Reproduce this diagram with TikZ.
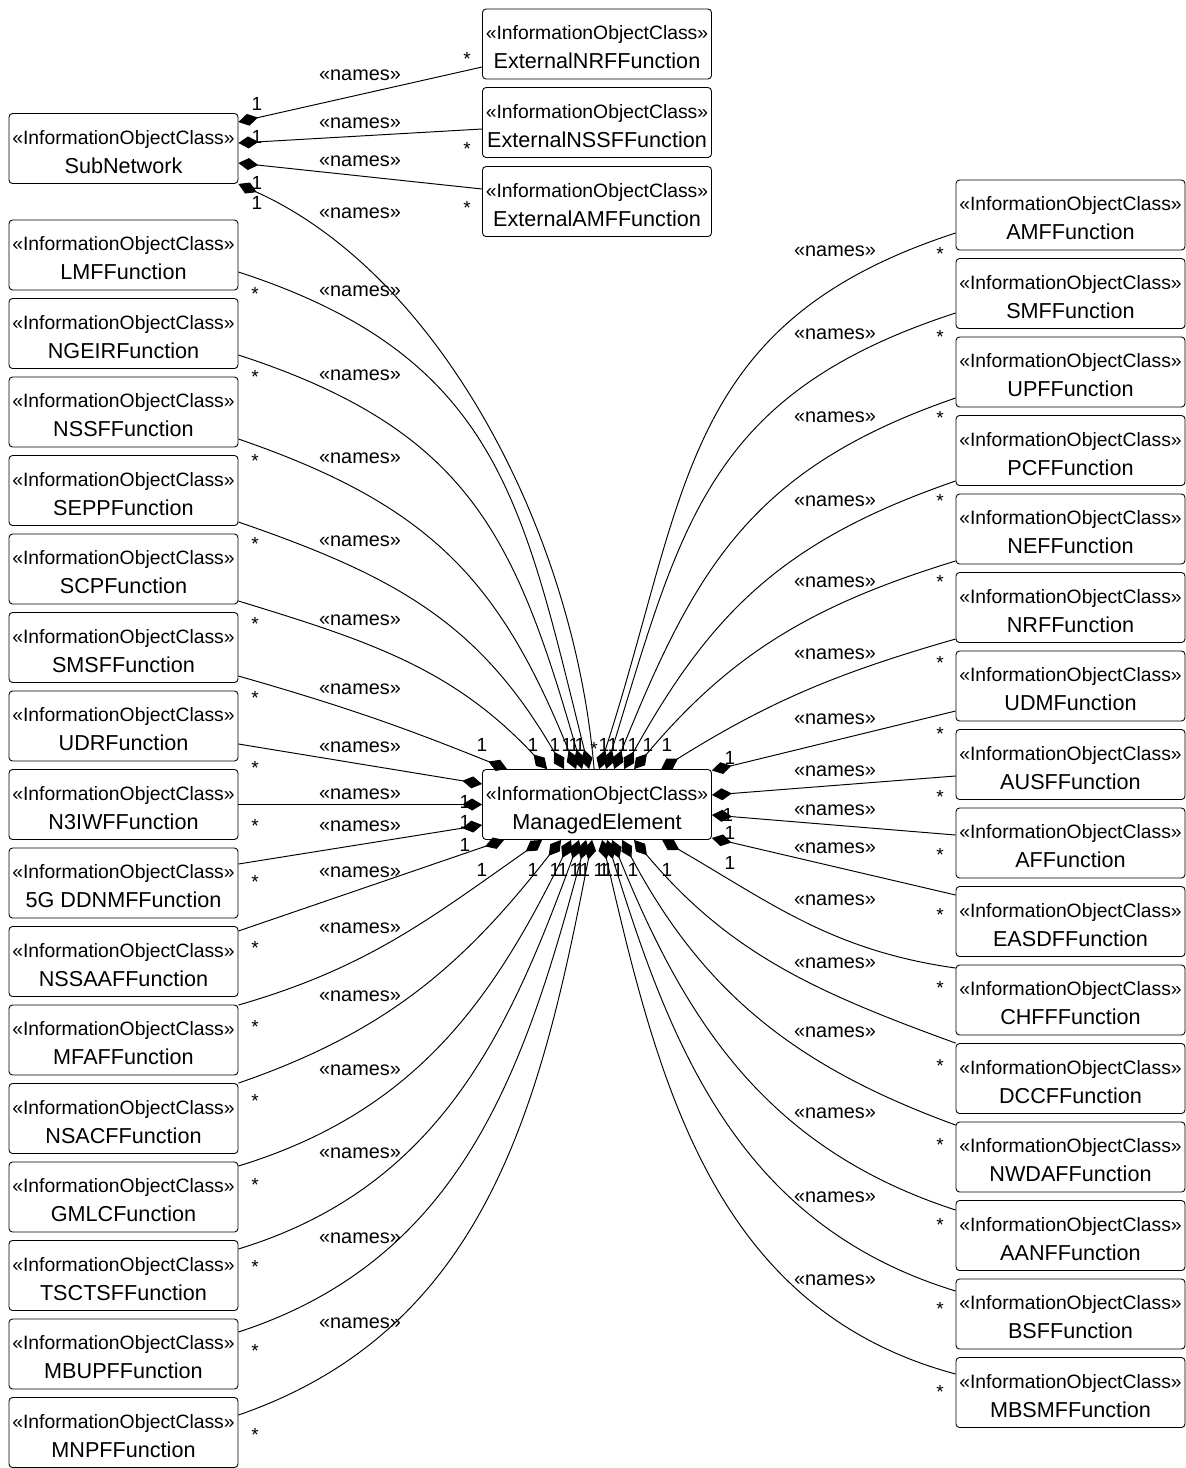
\documentclass[tikz,border=0pt]{standalone}
\usepackage{fontspec}
\setmainfont{Liberation Sans}
\usetikzlibrary{arrows.meta,calc}

\newcommand{\stereo}[1]{{\fontsize{11}{12}\selectfont\rule{0pt}{14.8pt}«InformationObjectClass»}\\#1\rule[-3pt]{0pt}{0pt}}

\begin{document}
\begin{tikzpicture}[x=0.02cm, y=-0.02cm,
  ioc/.style={draw, rounded corners=2pt, line width=0.5pt, minimum width=4.58cm, minimum height=1.4cm, inner sep=0.5pt, align=center, font=\fontsize{12.3}{16.5}\selectfont},
  assoc/.style={line width=0.55pt},
  comp/.style={{Diamond[length=0.4cm,width=0.24cm]}-},
  nameslbl/.style={font=\fontsize{11.3}{13}\selectfont, inner sep=0pt},
  mult/.style={font=\fontsize{10.8}{12}\selectfont, inner sep=0pt}]
\useasboundingbox (0,0) rectangle (1186,1468);

% classes
\node[ioc] (subnetwork) at (123.5,148.5) {\stereo{SubNetwork}};
\node[ioc] (extnrf) at (597,44) {\stereo{ExternalNRFFunction}};
\node[ioc] (extnssf) at (597,122.5) {\stereo{ExternalNSSFFunction}};
\node[ioc] (extamf) at (597,201.5) {\stereo{ExternalAMFFunction}};
\node[ioc] (me) at (597,804.5) {\stereo{ManagedElement}};

\node[ioc] (lmf) at (123.5,255) {\stereo{LMFFunction}};
\node[ioc] (ngeir) at (123.5,333.5) {\stereo{NGEIRFunction}};
\node[ioc] (nssf) at (123.5,412) {\stereo{NSSFFunction}};
\node[ioc] (sepp) at (123.5,490.5) {\stereo{SEPPFunction}};
\node[ioc] (scp) at (123.5,569) {\stereo{SCPFunction}};
\node[ioc] (smsf) at (123.5,647.5) {\stereo{SMSFFunction}};
\node[ioc] (udr) at (123.5,726) {\stereo{UDRFunction}};
\node[ioc] (n3iwf) at (123.5,804.5) {\stereo{N3IWFFunction}};
\node[ioc] (ddnmf) at (123.5,883) {\stereo{5G DDNMFFunction}};
\node[ioc] (nssaaf) at (123.5,961.5) {\stereo{NSSAAFFunction}};
\node[ioc] (mfaf) at (123.5,1040) {\stereo{MFAFFunction}};
\node[ioc] (nsacf) at (123.5,1118.5) {\stereo{NSACFFunction}};
\node[ioc] (gmlc) at (123.5,1197) {\stereo{GMLCFunction}};
\node[ioc] (tscts) at (123.5,1275.5) {\stereo{TSCTSFFunction}};
\node[ioc] (mbupf) at (123.5,1354) {\stereo{MBUPFFunction}};
\node[ioc] (mnpf) at (123.5,1432.5) {\stereo{MNPFFunction}};

\node[ioc] (amf) at (1070.5,215) {\stereo{AMFFunction}};
\node[ioc] (smf) at (1070.5,293.5) {\stereo{SMFFunction}};
\node[ioc] (upf) at (1070.5,372) {\stereo{UPFFunction}};
\node[ioc] (pcf) at (1070.5,450.5) {\stereo{PCFFunction}};
\node[ioc] (nef) at (1070.5,529) {\stereo{NEFFunction}};
\node[ioc] (nrf) at (1070.5,607.5) {\stereo{NRFFunction}};
\node[ioc] (udm) at (1070.5,686) {\stereo{UDMFunction}};
\node[ioc] (ausf) at (1070.5,764.5) {\stereo{AUSFFunction}};
\node[ioc] (af) at (1070.5,843) {\stereo{AFFunction}};
\node[ioc] (easdf) at (1070.5,921.5) {\stereo{EASDFFunction}};
\node[ioc] (chf) at (1070.5,1000) {\stereo{CHFFFunction}};
\node[ioc] (dccf) at (1070.5,1078.5) {\stereo{DCCFFunction}};
\node[ioc] (nwdaf) at (1070.5,1157) {\stereo{NWDAFFunction}};
\node[ioc] (aanf) at (1070.5,1235.5) {\stereo{AANFFunction}};
\node[ioc] (bsf) at (1070.5,1314) {\stereo{BSFFunction}};
\node[ioc] (mbsmf) at (1070.5,1392.5) {\stereo{MBSMFFunction}};

% SubNetwork links
\draw[assoc,comp] ($(subnetwork.east)+(0,-26.5)$) -- ($(extnrf.west)+(0,23)$);
\draw[assoc,comp] ($(subnetwork.east)+(0,-5.5)$) -- ($(extnssf.west)+(0,6.5)$);
\draw[assoc,comp] ($(subnetwork.east)+(0,14.5)$) -- ($(extamf.west)+(0,-12.5)$);
\draw[assoc,comp] (subnetwork.south east) .. controls +(200,90) and +(-20,-239) .. ($(me.north west)+(112,0)$);

% ManagedElement links, left
\draw[assoc,comp] ($(me.north west)+(107,0)$) to[out=104,in=-18,looseness=1.15] ($(lmf.east)+(0,17)$);
\draw[assoc,comp] ($(me.north west)+(100,0)$) to[out=106,in=-18,looseness=1.15] ($(ngeir.east)+(0,21.5)$);
\draw[assoc,comp] ($(me.north west)+(94,0)$) to[out=112,in=-19,looseness=1.1] ($(nssf.east)+(0,27)$);
\draw[assoc,comp] ($(me.north west)+(82,0)$) to[out=120,in=-19,looseness=1.05] ($(sepp.east)+(0,31.5)$);
\draw[assoc,comp] ($(me.north west)+(65,0)$) to[out=133,in=-17] ($(scp.east)+(0,32)$);
\draw[assoc,comp] ($(me.north west)+(25,0)$) to[out=158,in=-16] ($(smsf.east)+(0,28.5)$);
\draw[assoc,comp] ($(me.west)+(0,-20.5)$) -- ($(udr.east)+(0,18)$);
\draw[assoc,comp] (me.west) -- (n3iwf.east);
\draw[assoc,comp] ($(me.west)+(0,20.5)$) -- ($(ddnmf.east)+(0,-19)$);
\draw[assoc,comp] ($(me.south west)+(22,0)$) -- ($(nssaaf.east)+(0,-30.5)$);
\draw[assoc,comp] ($(me.south west)+(60,0)$) to[out=-145,in=16] ($(mfaf.east)+(0,-35)$);
\draw[assoc,comp] ($(me.south west)+(79,0)$) to[out=-128,in=19] (nsacf.north east);
\draw[assoc,comp] ($(me.south west)+(89,0)$) to[out=-116,in=17] ($(gmlc.east)+(0,-31)$);
\draw[assoc,comp] ($(me.south west)+(97,0)$) to[out=-110,in=17] ($(tscts.east)+(0,-26.5)$);
\draw[assoc,comp] ($(me.south west)+(104,0)$) to[out=-105,in=18] ($(mbupf.east)+(0,-22)$);
\draw[assoc,comp] ($(me.south west)+(110,0)$) to[out=-101,in=19] ($(mnpf.east)+(0,-17.5)$);

% ManagedElement links, right
\draw[assoc,comp] ($(me.north west)+(117,0)$) to[out=72,in=198,looseness=1.15] ($(amf.west)+(0,18)$);
\draw[assoc,comp] ($(me.north west)+(124,0)$) to[out=73,in=198,looseness=1.15] ($(smf.west)+(0,19.5)$);
\draw[assoc,comp] ($(me.north west)+(132,0)$) to[out=68,in=199,looseness=1.1] ($(upf.west)+(0,26)$);
\draw[assoc,comp] ($(me.north west)+(142,0)$) to[out=61,in=199,looseness=1.05] ($(pcf.west)+(0,30.5)$);
\draw[assoc,comp] ($(me.north west)+(152,0)$) to[out=50,in=197] ($(nef.west)+(0,32)$);
\draw[assoc,comp] ($(me.north west)+(179,0)$) to[out=32,in=196] ($(nrf.west)+(0,31.5)$);
\draw[assoc,comp] ($(me.east)+(0,-34)$) -- ($(udm.west)+(0,25)$);
\draw[assoc,comp] ($(me.east)+(0,-9.5)$) -- ($(ausf.west)+(0,11.5)$);
\draw[assoc,comp] ($(me.east)+(0,10.5)$) -- ($(af.west)+(0,-8)$);
\draw[assoc,comp] ($(me.east)+(0,33.5)$) -- ($(easdf.west)+(0,-26.5)$);
\draw[assoc,comp] ($(me.south west)+(180,0)$) to[out=-30,in=172] ($(chf.west)+(0,-32)$);
\draw[assoc,comp] ($(me.south west)+(152,0)$) to[out=-50,in=160] (dccf.north west);
\draw[assoc,comp] ($(me.south west)+(140,0)$) to[out=-62,in=160] ($(nwdaf.west)+(0,-32)$);
\draw[assoc,comp] ($(me.south west)+(130,0)$) to[out=-68,in=162] ($(aanf.west)+(0,-25.5)$);
\draw[assoc,comp] ($(me.south west)+(125,0)$) to[out=-73,in=163] ($(bsf.west)+(0,-23)$);
\draw[assoc,comp] ($(me.south west)+(120,0)$) to[out=-77,in=165] ($(mbsmf.west)+(0,-18.5)$);

% stereotype labels
\node[nameslbl] (nm-extnrf) at (360,75) {«names»};
\node[nameslbl] (nm-extnssf) at (360,123) {«names»};
\node[nameslbl] (nm-extamf) at (360,161) {«names»};
\node[nameslbl] (nm-me) at (360,213) {«names»};
\node[nameslbl] (nm-lmf) at (360,291) {«names»};
\node[nameslbl] (nm-ngeir) at (360,375) {«names»};
\node[nameslbl] (nm-nssf) at (360,458) {«names»};
\node[nameslbl] (nm-sepp) at (360,541) {«names»};
\node[nameslbl] (nm-scp) at (360,620) {«names»};
\node[nameslbl] (nm-smsf) at (360,689) {«names»};
\node[nameslbl] (nm-udr) at (360,747) {«names»};
\node[nameslbl] (nm-n3iwf) at (360,794) {«names»};
\node[nameslbl] (nm-ddnmf) at (360,826) {«names»};
\node[nameslbl] (nm-nssaaf) at (360,872) {«names»};
\node[nameslbl] (nm-mfaf) at (360,928) {«names»};
\node[nameslbl] (nm-nsacf) at (360,996) {«names»};
\node[nameslbl] (nm-gmlc) at (360,1070) {«names»};
\node[nameslbl] (nm-tscts) at (360,1153) {«names»};
\node[nameslbl] (nm-mbupf) at (360,1238) {«names»};
\node[nameslbl] (nm-mnpf) at (360,1323) {«names»};
\node[nameslbl] (nm-amf) at (835,251) {«names»};
\node[nameslbl] (nm-smf) at (835,334) {«names»};
\node[nameslbl] (nm-upf) at (835,417) {«names»};
\node[nameslbl] (nm-pcf) at (835,501) {«names»};
\node[nameslbl] (nm-nef) at (835,582) {«names»};
\node[nameslbl] (nm-nrf) at (835,654) {«names»};
\node[nameslbl] (nm-udm) at (835,719) {«names»};
\node[nameslbl] (nm-ausf) at (835,771) {«names»};
\node[nameslbl] (nm-af) at (835,810) {«names»};
\node[nameslbl] (nm-easdf) at (835,848) {«names»};
\node[nameslbl] (nm-chf) at (835,900) {«names»};
\node[nameslbl] (nm-dccf) at (835,963) {«names»};
\node[nameslbl] (nm-nwdaf) at (835,1032) {«names»};
\node[nameslbl] (nm-aanf) at (835,1113) {«names»};
\node[nameslbl] (nm-bsf) at (835,1197) {«names»};
\node[nameslbl] (nm-mbsmf) at (835,1280) {«names»};

% multiplicities, owner end
\node[mult] (o-extnrf) at (257,104) {1};
\node[mult] (o-extnssf) at (257,137) {1};
\node[mult] (o-extamf) at (257,183) {1};
\node[mult] (o-me) at (257,203) {1};
\node[mult] (o-smsf) at (482,745) {1};
\node[mult] (o-scp) at (533,745) {1};
\node[mult] (o-sepp) at (555,745) {1};
\node[mult] (o-nssf) at (567,745) {1};
\node[mult] (o-ngeir) at (574,745) {1};
\node[mult] (o-lmf) at (580,745) {1};
\node[mult] (o-amf) at (604,745) {1};
\node[mult] (o-smf) at (613,745) {1};
\node[mult] (o-upf) at (623,745) {1};
\node[mult] (o-pcf) at (633,745) {1};
\node[mult] (o-nef) at (648,745) {1};
\node[mult] (o-nrf) at (667,745) {1};
\node[mult] (o-udr) at (465,802) {1};
\node[mult] (o-n3iwf) at (465,822) {1};
\node[mult] (o-ddnmf) at (465,845) {1};
\node[mult] (o-udm) at (730,758) {1};
\node[mult] (o-ausf) at (728,815) {1};
\node[mult] (o-af) at (730,833) {1};
\node[mult] (o-easdf) at (730,863) {1};
\node[mult] (o-nssaaf) at (482,870) {1};
\node[mult] (o-mfaf) at (533,870) {1};
\node[mult] (o-nsacf) at (555,870) {1};
\node[mult] (o-gmlc) at (563,870) {1};
\node[mult] (o-tscts) at (575,870) {1};
\node[mult] (o-mbupf) at (580,870) {1};
\node[mult] (o-mnpf) at (585,870) {1};
\node[mult] (o-mbsmf) at (599,870) {1};
\node[mult] (o-bsf) at (604,870) {1};
\node[mult] (o-aanf) at (608,870) {1};
\node[mult] (o-nwdaf) at (618,870) {1};
\node[mult] (o-dccf) at (633,870) {1};
\node[mult] (o-chf) at (667,870) {1};

% multiplicities, member end
\node[mult] (p-extnrf) at (467,59) {*};
\node[mult] (p-extnssf) at (467,149) {*};
\node[mult] (p-extamf) at (467,208) {*};
\node[mult] (p-me) at (594,749) {*};
\node[mult] (p-lmf) at (255,294) {*};
\node[mult] (p-ngeir) at (255,377) {*};
\node[mult] (p-nssf) at (255,461) {*};
\node[mult] (p-sepp) at (255,544) {*};
\node[mult] (p-scp) at (255,624) {*};
\node[mult] (p-smsf) at (255,698) {*};
\node[mult] (p-udr) at (255,768) {*};
\node[mult] (p-n3iwf) at (255,826) {*};
\node[mult] (p-ddnmf) at (255,882) {*};
\node[mult] (p-nssaaf) at (255,948) {*};
\node[mult] (p-mfaf) at (255,1027) {*};
\node[mult] (p-nsacf) at (255,1101) {*};
\node[mult] (p-gmlc) at (255,1185) {*};
\node[mult] (p-tscts) at (255,1267) {*};
\node[mult] (p-mbupf) at (255,1351) {*};
\node[mult] (p-mnpf) at (255,1435) {*};
\node[mult] (p-amf) at (940,254) {*};
\node[mult] (p-smf) at (940,337) {*};
\node[mult] (p-upf) at (940,418) {*};
\node[mult] (p-pcf) at (940,501) {*};
\node[mult] (p-nef) at (940,582) {*};
\node[mult] (p-nrf) at (940,663) {*};
\node[mult] (p-udm) at (940,734) {*};
\node[mult] (p-ausf) at (940,797) {*};
\node[mult] (p-af) at (940,855) {*};
\node[mult] (p-easdf) at (940,915) {*};
\node[mult] (p-chf) at (940,988) {*};
\node[mult] (p-dccf) at (940,1066) {*};
\node[mult] (p-nwdaf) at (940,1145) {*};
\node[mult] (p-aanf) at (940,1225) {*};
\node[mult] (p-bsf) at (940,1309) {*};
\node[mult] (p-mbsmf) at (940,1392) {*};
\end{tikzpicture}
\end{document}
